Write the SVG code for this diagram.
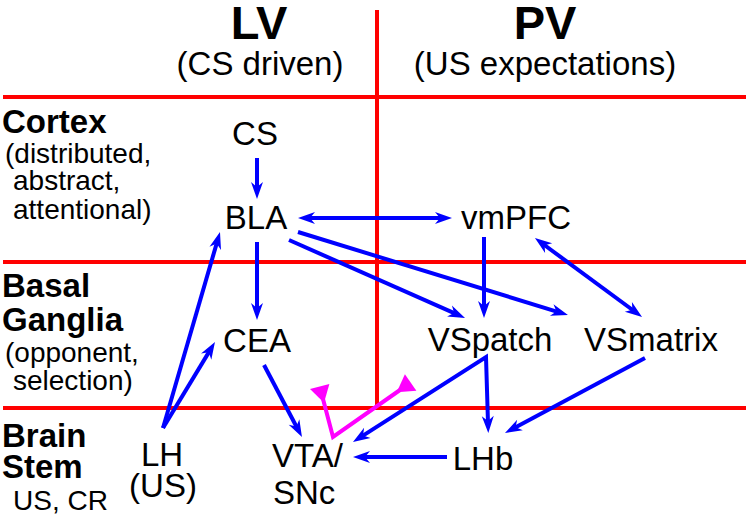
<svg xmlns="http://www.w3.org/2000/svg" width="750" height="520" viewBox="0 0 750 520">
<style>
text{font-family:"Liberation Sans",Arial,Helvetica,sans-serif;fill:#000}
.h{font-size:47px;font-weight:bold;text-anchor:middle}
.sub{font-size:33px;text-anchor:middle}
.rl{font-size:33px;font-weight:bold}
.rs{font-size:28px}
.n{font-size:33px;text-anchor:middle}
.grid{stroke:#ff0000;stroke-width:4;fill:none}
.c{stroke:#0000ff;stroke-width:4;fill:none;stroke-linejoin:miter}
.m{stroke:#ff00ff;stroke-width:4;fill:none;stroke-linejoin:miter}
</style>
<defs>
<marker id="ah" markerUnits="userSpaceOnUse" orient="auto-start-reverse" refX="0" refY="0" markerWidth="30" markerHeight="30" overflow="visible">
<path d="M10,0 L-7,-6 L-2,0 L-7,6 Z" fill="#0000ff"/>
</marker>
<marker id="mh" markerUnits="userSpaceOnUse" orient="auto-start-reverse" refX="0" refY="0" markerWidth="30" markerHeight="30" overflow="visible">
<path d="M-4,0 L13,-10 L13,10 Z" fill="#ff00ff"/>
</marker>
</defs>
<rect width="750" height="520" fill="#ffffff"/>
<g id="grid">
<line class="grid" x1="3" y1="97" x2="746" y2="97"/>
<line class="grid" x1="3" y1="262" x2="746" y2="262"/>
<line class="grid" x1="3" y1="408" x2="746" y2="408"/>
<line class="grid" x1="377" y1="10" x2="377" y2="408"/>
</g>
<g id="headers">
<text class="h" x="259" y="39">LV</text>
<text class="sub" x="260" y="75">(CS driven)</text>
<text class="h" x="545" y="39">PV</text>
<text class="sub" x="545" y="75">(US expectations)</text>
</g>
<g id="row-labels">
<text class="rl" x="2" y="133">Cortex</text>
<text class="rs" x="5" y="163">(distributed,</text>
<text class="rs" x="13" y="190">abstract,</text>
<text class="rs" x="13" y="219">attentional)</text>
<text class="rl" x="2" y="297">Basal</text>
<text class="rl" x="2" y="331">Ganglia</text>
<text class="rs" x="5" y="362">(opponent,</text>
<text class="rs" x="13" y="390">selection)</text>
<text class="rl" x="2" y="447">Brain</text>
<text class="rl" x="2" y="478">Stem</text>
<text class="rs" x="13" y="510">US, CR</text>
</g>
<g id="connectors">
<path class="c" marker-end="url(#ah)" d="M257,158 L257,189"/>
<path class="c" marker-start="url(#ah)" marker-end="url(#ah)" d="M308,218 L442,218"/>
<path class="c" marker-end="url(#ah)" d="M257,242 L257,310"/>
<path class="c" marker-end="url(#ah)" d="M289,240 L455.9,313.9"/>
<path class="c" marker-end="url(#ah)" d="M298,232 L558.4,312.1"/>
<path class="c" marker-end="url(#ah)" d="M484,237 L484,308"/>
<path class="c" marker-start="url(#ah)" marker-end="url(#ah)" d="M543,244 L634,311"/>
<path class="c" marker-end="url(#ah)" d="M163,428 L217.2,241.6"/>
<path class="c" marker-end="url(#ah)" d="M163,428 L209.8,350.6"/>
<path class="c" marker-end="url(#ah)" d="M264,365 L297.3,428.2"/>
<path class="c" marker-start="url(#ah)" marker-end="url(#ah)" d="M361.4,436.6 L486,357 L488,423"/>
<path class="c" marker-end="url(#ah)" d="M645,358 L513.8,428.3"/>
<path class="c" marker-end="url(#ah)" d="M447,457 L363,457"/>
<path class="m" marker-start="url(#mh)" marker-end="url(#mh)" d="M323,399 L333,437 L400,390"/>
</g>
<g id="node-CS"><text class="n" x="255" y="145">CS</text></g>
<g id="node-BLA"><text class="n" x="256" y="229">BLA</text></g>
<g id="node-vmPFC"><text class="n" x="516" y="229">vmPFC</text></g>
<g id="node-CEA"><text class="n" x="257" y="352">CEA</text></g>
<g id="node-VSpatch"><text class="n" x="490" y="351">VSpatch</text></g>
<g id="node-VSmatrix"><text class="n" x="651" y="351">VSmatrix</text></g>
<g id="node-LH"><text class="n" x="162" y="466">LH</text><text class="n" x="163" y="497">(US)</text></g>
<g id="node-VTA"><text class="rs" style="font-size:33px" x="272" y="467">VTA/</text><text class="rs" style="font-size:33px" x="273" y="504">SNc</text></g>
<g id="node-LHb"><text class="n" x="483" y="470">LHb</text></g>
</svg>
